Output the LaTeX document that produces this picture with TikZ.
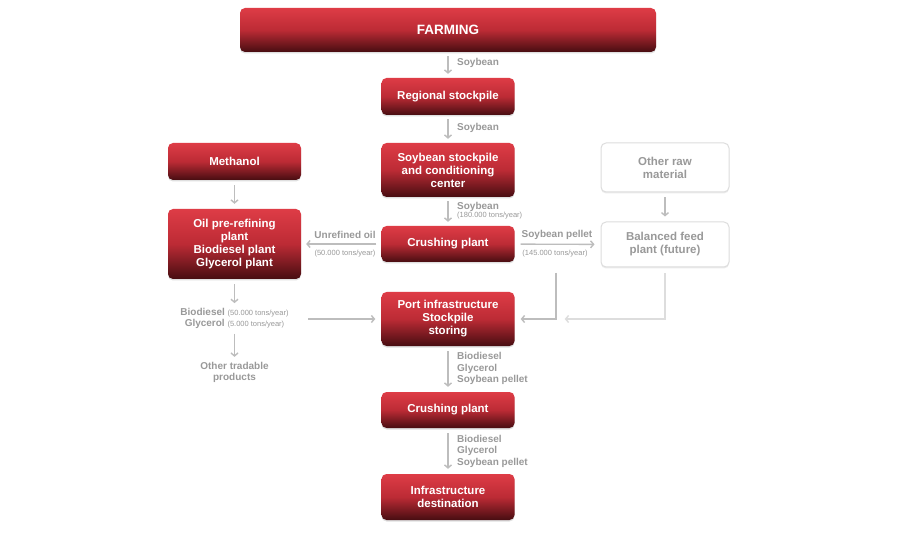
\documentclass[tikz,border=0pt]{standalone}
\usepackage{fontspec}
\setmainfont{Liberation Sans}
\usetikzlibrary{arrows.meta,shadows}
\definecolor{FRTop}{HTML}{DE3C46}
\definecolor{FRMid}{HTML}{BC2B35}
\definecolor{FRBot}{HTML}{470D11}
\definecolor{FRLine}{HTML}{BDBDBD}
\definecolor{FRPale}{HTML}{DDDDDD}
\definecolor{FRText}{HTML}{999999}

\newcommand{\tonsyear}[1]{{\fontsize{7.5}{9}\selectfont\mdseries(#1 tons/year)}}

\begin{document}
\begin{tikzpicture}[x=1pt,y=-1pt,
  redbox/.style={rounded corners=5pt,top color=FRTop,bottom color=FRBot,middle color=FRMid,
    text=white,font=\fontsize{11.5}{13}\selectfont\bfseries,align=center,
    minimum width=133pt,inner sep=2pt,
    drop shadow={opacity=.25,shadow xshift=0pt,shadow yshift=-1.5pt}},
  palebox/.style={rounded corners=5pt,draw=FRPale,line width=1pt,fill=white,
    text=FRText,font=\fontsize{11.5}{13}\selectfont\bfseries,align=center,
    minimum width=128pt,inner sep=2pt,
    drop shadow={opacity=.15,shadow xshift=0pt,shadow yshift=-1.5pt}},
  flow/.style={draw=FRLine,line width=1.4pt,-{Straight Barb[length=3pt,width=7pt]},
    shorten <=5pt,shorten >=5pt},
  lbl/.style={text=FRText,font=\fontsize{10}{11.5}\selectfont\bfseries,inner sep=0pt},
  tons/.style={text=FRText,font=\fontsize{7.5}{9}\selectfont,inner sep=0pt}]
\useasboundingbox[fill=white] (0,0) rectangle (900,540);

% main column
\node[redbox,minimum width=416pt,minimum height=44pt,font=\fontsize{13.5}{16}\selectfont\bfseries] (farming) at (448,30) {FARMING};
\node[redbox,minimum height=37pt] (regional) at (448,96.5) {Regional stockpile};
\node[redbox,minimum height=54pt] (stockpile) at (448,170) {Soybean stockpile\\and conditioning\\center};
\node[redbox,minimum height=36pt] (crushing) at (448,244) {Crushing plant};
\node[redbox,minimum height=54pt] (port) at (448,319) {Port infrastructure\\Stockpile\\storing};
\node[redbox,minimum height=36pt] (crushingB) at (448,410) {Crushing plant};
\node[redbox,minimum height=46pt] (destination) at (448,497) {Infrastructure\\destination};

% left column
\node[redbox,minimum height=37pt] (methanol) at (234.5,161.5) {Methanol};
\node[redbox,minimum height=70pt] (oilplant) at (234.5,244) {Oil pre-refining\\plant\\Biodiesel plant\\Glycerol plant};
\node[lbl,align=center,font=\fontsize{10}{11}\selectfont\bfseries] (biofuel) at (234.5,318.5) {Biodiesel \tonsyear{50.000}\\Glycerol \tonsyear{5.000}};
\node[lbl,align=center] (tradable) at (234.5,372.5) {Other tradable\\products};

% right column
\node[palebox,minimum height=49pt] (otherraw) at (665,167.5) {Other raw\\material};
\node[palebox,minimum height=45pt] (feedplant) at (665,244.5) {Balanced feed\\plant (future)};

% flows
\draw[flow,shorten <=4pt,shorten >=4pt] (farming) -- (regional);
\draw[flow,shorten <=4pt,shorten >=4pt] (regional) -- (stockpile);
\draw[flow,shorten <=4pt,shorten >=4pt] (stockpile) -- (crushing);
\draw[flow] (crushing) -- (oilplant);
\draw[flow,shorten <=6pt,shorten >=6pt] (crushing) -- (feedplant);
\draw[flow] (methanol) -- (oilplant);
\draw[flow] (otherraw) -- (feedplant);
\draw[flow] (oilplant) -- (biofuel);
\draw[flow] (biofuel) -- (tradable);
\coordinate (bioout) at (308,319);
\draw[flow,shorten <=0pt,shorten >=6pt] (bioout) -- (port.west);
\coordinate (pelletdrop) at (556,273);
\draw[flow,shorten <=0pt,shorten >=6pt] (pelletdrop) |- (port.east);
\draw[flow,draw=FRPale,shorten <=6pt,shorten >=50pt] (feedplant.south) |- (port.east);
\draw[flow] (port) -- (crushingB);
\draw[flow] (crushingB) -- (destination);

% flow labels
\node[lbl,anchor=west] (soyA) at (457,63) {Soybean};
\node[lbl,anchor=west] (soyB) at (457,128) {Soybean};
\node[lbl,anchor=west] (soyC) at (457,207) {Soybean};
\node[tons,anchor=west] (soyCtons) at (457,216) {(180.000 tons/year)};
\node[lbl] (unrefined) at (345,235) {Unrefined oil};
\node[tons] (unrefinedtons) at (345,254) {(50.000 tons/year)};
\node[lbl] (pellet) at (557,235) {Soybean pellet};
\node[tons] (pellettons) at (555,254) {(145.000 tons/year)};
\node[lbl,anchor=west,align=left] (cargoA) at (457,368.5) {Biodiesel\\Glycerol\\Soybean pellet};
\node[lbl,anchor=west,align=left] (cargoB) at (457,451) {Biodiesel\\Glycerol\\Soybean pellet};
\end{tikzpicture}
\end{document}
